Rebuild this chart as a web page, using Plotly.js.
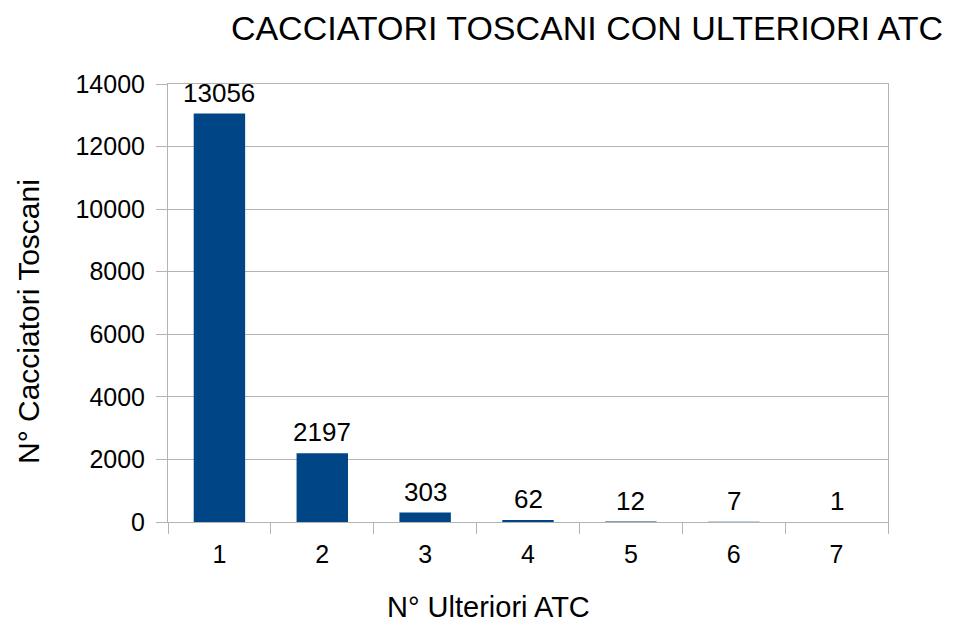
<!DOCTYPE html>
<html><head><meta charset="utf-8">
<script src="https://cdn.plot.ly/plotly-3.0.1.min.js"></script>
<style>body{margin:0;background:#fff}#c{width:963px;height:625px}</style>
</head><body><div id="c"></div>
<script>
const categories = ["1","2","3","4","5","6","7"];
const values = [13056, 2197, 303, 62, 12, 7, 1];
const labels = values.map(String);
const F = "Liberation Sans, Arial, sans-serif";
const valueNotes = categories.map((c, i) => ({
  x: i, y: values[i], xref: "x", yref: "y", text: labels[i], showarrow: false,
  xanchor: "center", yanchor: "bottom", yshift: 4,
  font: {family: F, size: 26, color: "#000"}
}));
Plotly.newPlot("c", [{
  type: "bar", x: categories, y: values,
  marker: {color: "#004586"}, width: 0.5, hoverinfo: "none"
}], {
  width: 963, height: 625,
  margin: {l: 168, r: 75, t: 84, b: 103},
  paper_bgcolor: "#fff", plot_bgcolor: "#fff",
  showlegend: false,
  font: {family: F, color: "#000"},
  title: {text: "CACCIATORI TOSCANI CON ULTERIORI ATC", font: {family: F, size: 34, color: "#000"},
    xref: "container", yref: "container", x: 587/963, xanchor: "center", y: 1 - 28/625, yanchor: "middle"},
  xaxis: {type: "category", range: [-0.5, categories.length - 0.5], autorange: false,
    tickson: "boundaries", ticks: "outside", ticklen: 11, tickcolor: "#b3b3b3",
    showline: true, linecolor: "#b3b3b3", mirror: true, showgrid: false,
    tickfont: {family: F, size: 25, color: "#000"}, ticklabelstandoff: 10},
  yaxis: {range: [0, 14000], dtick: 2000, tickformat: "d", ticks: "outside", ticklen: 11, tickcolor: "#b3b3b3",
    showline: true, linecolor: "#b3b3b3", mirror: true, gridcolor: "#b3b3b3", zeroline: false,
    tickfont: {family: F, size: 25, color: "#000"}, ticklabelstandoff: 6},
  annotations: valueNotes.concat([
    {text: "N° Ulteriori ATC", xref: "paper", yref: "paper", x: (488-168)/720, y: -(607-522)/438,
     xanchor: "center", yanchor: "middle", showarrow: false, font: {family: F, size: 29, color: "#000"}},
    {text: "N° Cacciatori Toscani", xref: "paper", yref: "paper", x: -(168-28)/720, y: (522-322)/438,
     xanchor: "center", yanchor: "middle", textangle: -90, showarrow: false, font: {family: F, size: 30, color: "#000"}}
  ])
}, {staticPlot: true});
</script></body></html>
